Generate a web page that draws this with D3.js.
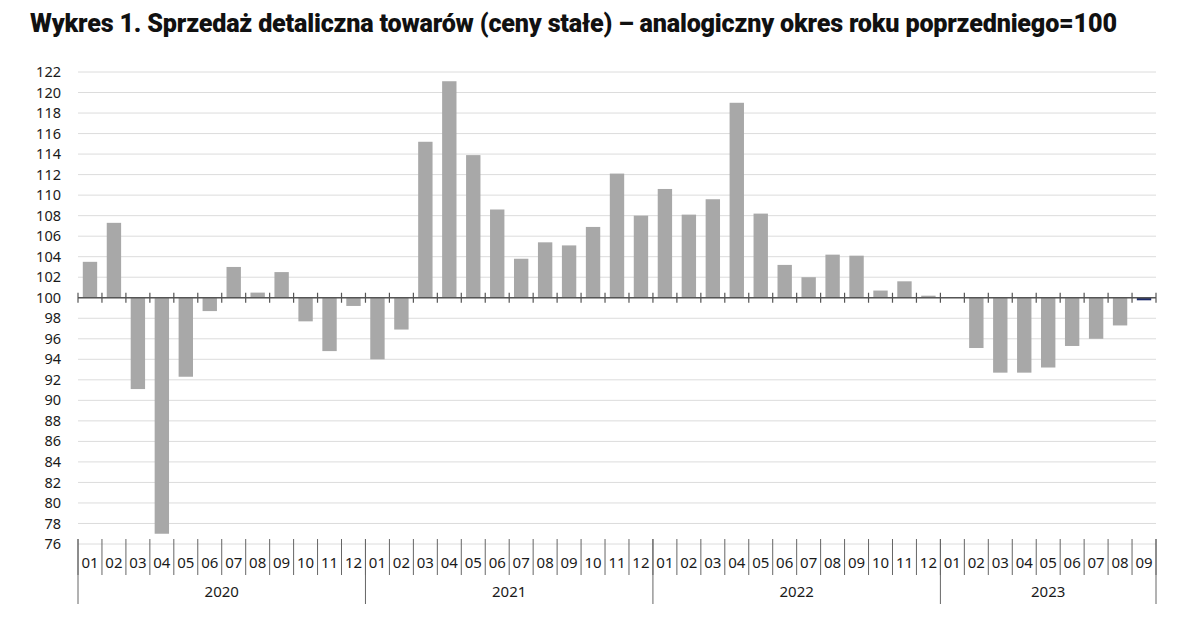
<!DOCTYPE html>
<html>
<head>
<meta charset="utf-8">
<script src="https://cdn.jsdelivr.net/npm/d3@7"></script>
<style>
  body { margin: 0; background: #fff; }
  text { font-family: "Noto Sans", sans-serif; fill: #1a1a1a; }
  .title { font-family: Roboto, "Open Sans", sans-serif; font-weight: 900; fill: #111; letter-spacing: -0.2px; }
</style>
</head>
<body>
<div id="chart"></div>
<script>
// Data: retail sales of goods, constant prices, same period previous year = 100
const years = ["2020", "2021", "2022", "2023"];
const monthsPerYear = [12, 12, 12, 9];
const values2020 = [103.5, 107.3, 91.1, 77.0, 92.3, 98.7, 103.0, 100.5, 102.5, 97.7, 94.8, 99.2];
const values2021 = [94.0, 96.9, 115.2, 121.1, 113.9, 108.6, 103.8, 105.4, 105.1, 106.9, 112.1, 108.0];
const values2022 = [110.6, 108.1, 109.6, 119.0, 108.2, 103.2, 102.0, 104.2, 104.1, 100.7, 101.6, 100.2];
const values2023 = [100.0, 95.1, 92.7, 92.7, 93.2, 95.3, 96.0, 97.3, 99.75];
const yTicks = d3.range(76, 123, 2);

const W = 1200, H = 638;
const margin = { top: 72, right: 44, bottom: 94, left: 78 };
const plotBottom = H - margin.bottom;

const data = [];
[values2020, values2021, values2022, values2023].forEach((vals, yi) => {
  vals.forEach((v, mi) => {
    data.push({ key: years[yi] + "-" + String(mi + 1).padStart(2, "0"),
                year: years[yi], month: String(mi + 1).padStart(2, "0"), value: v,
                last: yi === 3 && mi === vals.length - 1 });
  });
});

const svg = d3.select("#chart").append("svg")
  .attr("width", W).attr("height", H);

const title = svg.append("text")
  .attr("class", "title")
  .attr("x", 30).attr("y", 32)
  .attr("font-size", 25)
  .text("Wykres 1. Sprzedaż detaliczna towarów (ceny stałe) – analogiczny okres roku poprzedniego=100");
// size the font so the title ends where the reference does
const tw = title.node().getComputedTextLength();
title.attr("font-size", Math.min(26, 25 * 1087 / tw));

const x = d3.scaleBand()
  .domain(data.map(d => d.key))
  .range([margin.left, W - margin.right])
  .paddingInner(0.4)
  .paddingOuter(0.2);
const step = x.step();
const edge = k => x(k) - step * 0.2; // left boundary of a month slot

const y = d3.scaleLinear().domain([76, 122]).range([plotBottom, margin.top]);

// gridlines
svg.append("g")
  .selectAll("line")
  .data(yTicks)
  .join("line")
    .attr("x1", margin.left).attr("x2", W - margin.right)
    .attr("y1", d => y(d)).attr("y2", d => y(d))
    .attr("stroke", "#dcdcdc").attr("stroke-width", 1);

// y labels
svg.append("g")
  .selectAll("text")
  .data(yTicks)
  .join("text")
    .attr("x", 61).attr("y", d => y(d))
    .attr("dy", "0.35em")
    .attr("text-anchor", "end")
    .attr("font-size", 14.5)
    .text(d => d);

// bars
svg.append("g")
  .selectAll("rect")
  .data(data)
  .join("rect")
    .attr("x", d => x(d.key))
    .attr("width", x.bandwidth())
    .attr("y", d => y(Math.max(d.value, 100)))
    .attr("height", d => Math.abs(y(d.value) - y(100)))
    .attr("fill", d => d.last ? "#1c2a68" : "#a8a8a8");

// axis at 100
const y100 = y(100);
svg.append("line")
  .attr("x1", margin.left).attr("x2", W - margin.right)
  .attr("y1", y100).attr("y2", y100)
  .attr("stroke", "#555").attr("stroke-width", 1.5);
const boundaries = data.map(d => edge(d.key)).concat([W - margin.right]);
svg.append("g")
  .selectAll("line")
  .data(boundaries)
  .join("line")
    .attr("x1", d => d).attr("x2", d => d)
    .attr("y1", y100 - 5).attr("y2", y100 + 5)
    .attr("stroke", "#555").attr("stroke-width", 1.2);

// category axis: months
const cat = svg.append("g");
cat.selectAll("line.m")
  .data(boundaries)
  .join("line")
    .attr("class", "m")
    .attr("x1", d => d).attr("x2", d => d)
    .attr("y1", plotBottom - 5).attr("y2", plotBottom + 31)
    .attr("stroke", "#666").attr("stroke-width", 1);
cat.selectAll("text.m")
  .data(data)
  .join("text")
    .attr("class", "m")
    .attr("x", d => x(d.key) + x.bandwidth() / 2)
    .attr("y", plotBottom + 19)
    .attr("dy", "0.35em")
    .attr("text-anchor", "middle")
    .attr("font-size", 15)
    .text(d => d.month);

// years
let idx = 0;
const yearInfo = years.map((yr, i) => {
  const first = data[idx].key;
  const last = data[idx + monthsPerYear[i] - 1].key;
  idx += monthsPerYear[i];
  return { year: yr, x0: edge(first), x1: edge(last) + step };
});
cat.selectAll("line.y")
  .data(yearInfo.map(d => d.x0).concat([yearInfo[yearInfo.length - 1].x1]))
  .join("line")
    .attr("class", "y")
    .attr("x1", d => d).attr("x2", d => d)
    .attr("y1", plotBottom - 5).attr("y2", plotBottom + 60)
    .attr("stroke", "#666").attr("stroke-width", 1);
cat.selectAll("text.y")
  .data(yearInfo)
  .join("text")
    .attr("class", "y")
    .attr("x", d => (d.x0 + d.x1) / 2)
    .attr("y", plotBottom + 48)
    .attr("dy", "0.35em")
    .attr("text-anchor", "middle")
    .attr("font-size", 15)
    .text(d => d.year);
</script>
</body>
</html>
